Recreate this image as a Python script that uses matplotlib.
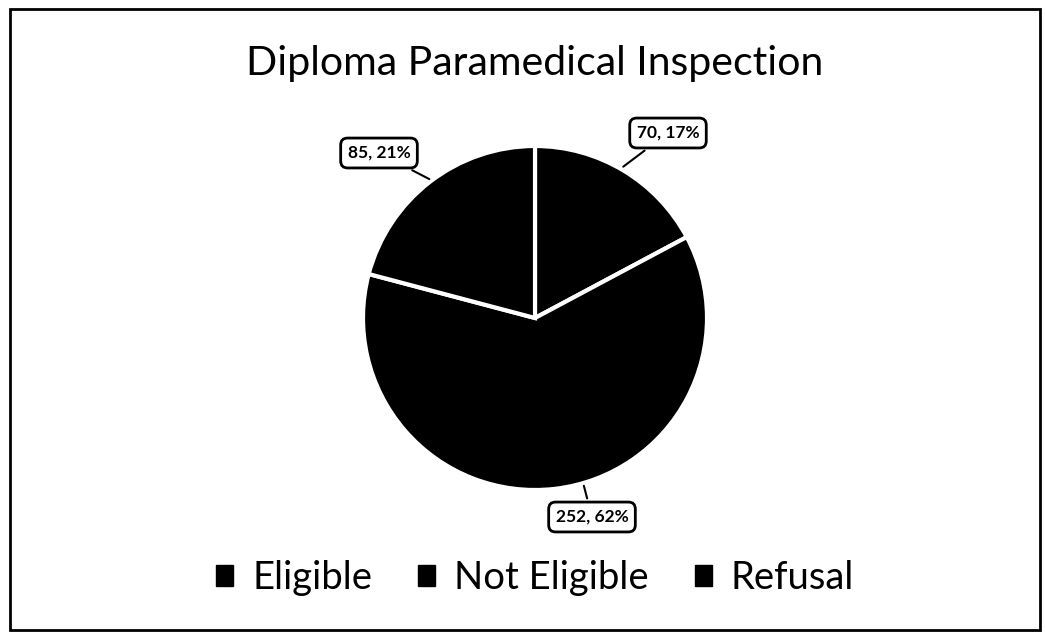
import matplotlib.pyplot as plt
from matplotlib.patches import Rectangle, Patch

# datos del grafico
categorias = ['Eligible', 'Not Eligible', 'Refusal']
valores = [70, 252, 85]
porcentajes = ['17%', '62%', '21%']
titulo = 'Diploma Paramedical Inspection'

W, H = 1045, 639
plt.rcParams['font.family'] = ['Lato', 'DejaVu Sans']

fig = plt.figure(figsize=(W / 100, H / 100), dpi=100)

# marco exterior
fig.patches.append(Rectangle((10 / W, 9 / H), 1030 / W, 621 / H, transform=fig.transFigure,
                             fill=False, edgecolor='black', linewidth=2))

# ejes de la torta (centro y radio en pixeles)
cx, cy, r = 535, 318, 172
ax = fig.add_axes([(cx - r) / W, 1 - (cy + r) / H, 2 * r / W, 2 * r / H])
wedges, _ = ax.pie(valores, startangle=90, counterclock=False, colors=['black'] * 3,
                   wedgeprops=dict(edgecolor='white', linewidth=3))
ax.set_xlim(-1, 1)
ax.set_ylim(-1, 1)
ax.set_aspect('equal')
ax.axis('off')

# etiquetas con recuadro
puntos = [(0.50, 0.87), (0.28, -0.96), (-0.60, 0.80)]
textos = [(668, 133), (592, 517), (379, 153)]
for v, p, pt, tx in zip(valores, porcentajes, puntos, textos):
    ax.annotate(f'{v}, {p}', xy=pt, xycoords='data',
                xytext=(tx[0] / W, 1 - tx[1] / H), textcoords='figure fraction',
                ha='center', va='center', fontsize=12.5, fontweight='bold',
                bbox=dict(boxstyle='round,pad=0.4', fc='white', ec='black', lw=2),
                arrowprops=dict(arrowstyle='-', color='black', lw=1.5))

fig.text(cx / W, 1 - 63 / H, titulo, ha='center', va='center', fontsize=29.5)

handles = [Patch(facecolor='black', edgecolor='black') for _ in categorias]
fig.legend(handles, categorias, loc='center', bbox_to_anchor=(cx / W, 1 - 578 / H), ncol=3,
           frameon=False, fontsize=27.5, handlelength=0.45, handleheight=0.45,
           handletextpad=0.5, columnspacing=1.2)

fig.savefig('out.png', dpi=100)
